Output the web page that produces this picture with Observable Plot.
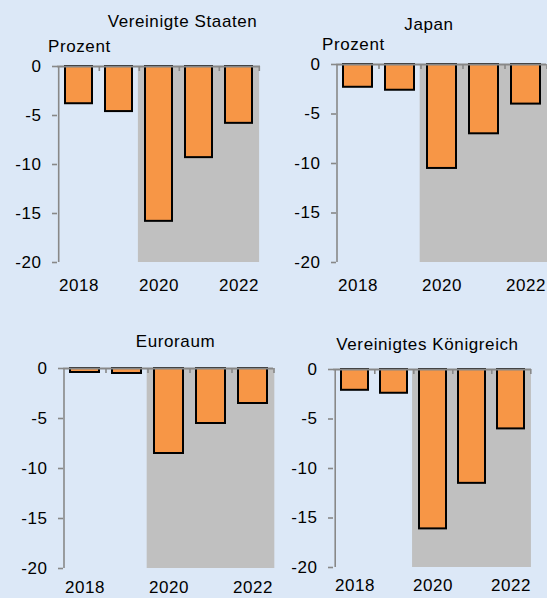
<!DOCTYPE html>
<html><head><meta charset="utf-8">
<script src="https://cdn.jsdelivr.net/npm/d3@7"></script>
<script src="https://cdn.jsdelivr.net/npm/@observablehq/plot@0.6"></script>
<style>
html,body{margin:0;padding:0;background:#dce8f7;}
#chart{position:relative;width:547px;height:598px;background:#dce8f7;font-family:"Liberation Sans",Arial,sans-serif;font-size:17px;letter-spacing:0.6px;color:#000;overflow:hidden}
.panel{position:absolute}
.panel svg{overflow:visible;display:block}
.lbl{position:absolute;white-space:nowrap;line-height:17px}
.title{transform:translateX(-50%)}
</style></head><body><div id="chart"></div>
<script>
const years = [2018, 2019, 2020, 2021, 2022];
const usa   = [-3.8, -4.6, -15.8, -9.3, -5.8];
const japan = [-2.3, -2.6, -10.5, -7.0, -4.0];
const euro  = [-0.4, -0.5, -8.5, -5.5, -3.5];
const uk    = [-2.1, -2.4, -16.1, -11.5, -6.0];
const forecastYears = [2020, 2021, 2022];
const yDomain = [-20, 0];
const yTicks = [0, -5, -10, -15, -20];
const xTickLabels = [2018, 2020, 2022];
const titles = ["Vereinigte Staaten", "Japan", "Euroraum", "Vereinigtes Königreich"];
const unitLabel = "Prozent";

const gray = "#888888";
const orange = "#f79646";
const shade = "#c0c0c0";
const pad = 0.32;

const panels = [
  {title: titles[0], values: usa,   box: {left: 0,   top: 0,   width: 273, height: 299}, m: {l: 57, r: 13, t: 66, b: 37}, xPad: 16, titlePos: [182.5, 12.6], unitPos: [48, 37.6]},
  {title: titles[1], values: japan, box: {left: 273, top: 0,   width: 274, height: 299}, m: {l: 63, r: 1,  t: 64, b: 37}, xPad: 16, titlePos: [429, 15.6],  unitPos: [322, 35.6]},
  {title: titles[2], values: euro,  box: {left: 0,   top: 299, width: 273, height: 299}, m: {l: 63, r: 0,  t: 69, b: 30}, xPad: 12, titlePos: [175.5, 332.6]},
  {title: titles[3], values: uk,    box: {left: 273, top: 299, width: 274, height: 299}, m: {l: 60, r: 16, t: 70, b: 31}, xPad: 11, titlePos: [427.5, 335.6]}
];

const root = document.getElementById("chart");

for (const p of panels) {
  const {width, height} = p.box;
  const plotW = width - p.m.l - p.m.r;
  const step = plotW / years.length;
  const data = years.map((year, i) => ({year, value: p.values[i]}));
  const chart = Plot.plot({
    width, height,
    marginLeft: p.m.l, marginRight: p.m.r, marginTop: p.m.t, marginBottom: p.m.b,
    style: {background: "transparent", fontFamily: '"Liberation Sans", Arial, sans-serif', fontSize: "17px", letterSpacing: "0.6px", color: "#000", overflow: "visible", maxWidth: "none"},
    x: {type: "band", domain: years, paddingInner: pad, paddingOuter: pad / 2, align: 0.5, axis: null, label: null},
    y: {domain: yDomain, axis: null, label: null},
    marks: [
      Plot.barY(forecastYears, {x: d => d, y1: yDomain[0], y2: yDomain[1], fill: shade, insetLeft: -step * pad / 2 - 0.6, insetRight: -step * pad / 2 - 0.6}),
      Plot.barY(data, {x: "year", y: "value", fill: orange, stroke: "#000", strokeWidth: 2}),
      Plot.ruleX([years[0]], {x: d => d, dx: -step / 2, y1: yDomain[0], y2: yDomain[1], stroke: gray, strokeWidth: 1.6}),
      Plot.ruleY([0], {stroke: gray, strokeWidth: 2}),
      Plot.ruleX(years, {x: d => d, dx: step / 2, y1: 0, y2: 0, insetBottom: -5, stroke: gray, strokeWidth: 1.6}),
      Plot.axisY(yTicks, {anchor: "left", label: null, tickSize: 5, tickPadding: 11, stroke: gray, fill: "#000", strokeWidth: 1.6, tickFormat: d => String(d)}),
      Plot.axisX(xTickLabels, {anchor: "bottom", label: null, tickSize: 0, tickPadding: p.xPad, fill: "#000", tickFormat: d => String(d)})
    ]
  });
  const div = document.createElement("div");
  div.className = "panel";
  div.style.left = p.box.left + "px";
  div.style.top = p.box.top + "px";
  div.style.width = width + "px";
  div.style.height = height + "px";
  div.appendChild(chart);
  root.appendChild(div);

  const t = document.createElement("div");
  t.className = "lbl title";
  t.textContent = p.title;
  t.style.left = p.titlePos[0] + "px";
  t.style.top = p.titlePos[1] + "px";
  root.appendChild(t);

  if (p.unitPos) {
    const u = document.createElement("div");
    u.className = "lbl";
    u.textContent = unitLabel;
    u.style.left = p.unitPos[0] + "px";
    u.style.top = p.unitPos[1] + "px";
    root.appendChild(u);
  }
}
</script>
</body></html>
